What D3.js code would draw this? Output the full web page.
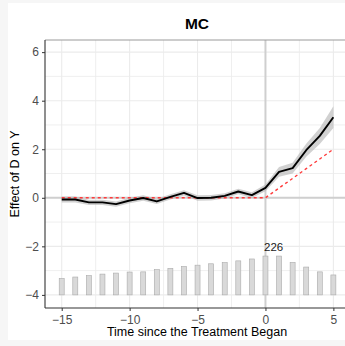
<!DOCTYPE html>
<html><head><meta charset="utf-8">
<script src="https://cdn.jsdelivr.net/npm/d3@7"></script>
<style>body{margin:0;background:#f6f6f6;}svg{display:block;}</style>
</head><body>
<script>
const times = d3.range(-15, 6);
const effect = [-0.07,-0.07,-0.19,-0.19,-0.26,-0.11,-0.01,-0.15,0.04,0.20,-0.01,0.00,0.08,0.26,0.11,0.41,1.07,1.22,1.96,2.55,3.32];
const ciHalf = [0.12,0.12,0.11,0.11,0.11,0.11,0.11,0.11,0.11,0.11,0.11,0.11,0.11,0.11,0.12,0.14,0.2,0.22,0.27,0.33,0.45];
const trueEffect = [0,0,0,0,0,0,0,0,0,0,0,0,0,0,0,0,0.4,0.8,1.2,1.6,2.0];
const counts = [95,104,112,121,127,133,134,147,154,165,173,181,188,198,209,226,226,189,162,134,116];
const xTicks = [-15,-10,-5,0,5];
const yTicks = [-4,-2,0,2,4,6];
const title = "MC";
const xLabel = "Time since the Treatment Began";
const yLabel = "Effect of D on Y";

const W = 345, H = 346;
const svg = d3.select("body").append("svg").attr("width", W).attr("height", H)
  .style("font-family", "'Liberation Sans', Arial, sans-serif");
svg.append("rect").attr("x", 8).attr("y", 3).attr("width", W - 8).attr("height", 337).attr("fill", "#fff");

const L = 45, R = 349, T = 40, B = 308;
const x = d3.scaleLinear().domain([-16.23, 6.15]).range([L, R]);
const y = d3.scaleLinear().domain([-4.54, 6.5]).range([B, T]);

const g = svg.append("g");
// grid
const xMinor = d3.range(-15, 6, 2.5);
const yMinor = d3.range(-4, 7, 1);
g.selectAll(".gx").data(xMinor).join("line")
  .attr("x1", d => x(d)).attr("x2", d => x(d)).attr("y1", T).attr("y2", B)
  .attr("stroke", "#ebebeb").attr("stroke-width", d => xTicks.includes(d) ? 1.1 : 0.8);
g.selectAll(".gy").data(yMinor).join("line")
  .attr("x1", L).attr("x2", R).attr("y1", d => y(d)).attr("y2", d => y(d))
  .attr("stroke", "#ebebeb").attr("stroke-width", d => yTicks.includes(d) ? 1.1 : 0.8);

// reference lines
g.append("line").attr("x1", x(0)).attr("x2", x(0)).attr("y1", T).attr("y2", B)
  .attr("stroke", "#cfcfcf").attr("stroke-width", 2);
g.append("line").attr("x1", L).attr("x2", R).attr("y1", y(0)).attr("y2", y(0))
  .attr("stroke", "#cfcfcf").attr("stroke-width", 2);

// bars
const maxC = d3.max(counts);
const barScale = d3.scaleLinear().domain([0, maxC]).range([-4, -2.4]);
const bw = 5;
g.selectAll(".bar").data(times).join("rect")
  .attr("x", (d) => x(d) - bw / 2).attr("width", bw)
  .attr("y", (d, i) => y(barScale(counts[i])))
  .attr("height", (d, i) => y(-4) - y(barScale(counts[i])))
  .attr("fill", "#d9d9d9").attr("stroke", "#aaaaaa").attr("stroke-width", 0.6);
const iMax = counts.indexOf(maxC);
g.append("text").attr("x", x(times[iMax] + 0.6)).attr("y", y(barScale(maxC)) - 5)
  .attr("text-anchor", "middle").attr("font-size", 11.5).attr("fill", "#1a1a1a").text(maxC);

// ribbon
const area = d3.area().x((d, i) => x(times[i]))
  .y0((d, i) => y(effect[i] - ciHalf[i])).y1((d, i) => y(effect[i] + ciHalf[i]));
g.append("path").datum(effect).attr("d", area).attr("fill", "#b3b3b3").attr("opacity", 0.6);

// true effect dashed
const line = d3.line().x((d, i) => x(times[i])).y(d => y(d));
g.append("path").datum(trueEffect).attr("d", line).attr("fill", "none")
  .attr("stroke", "#ff3b3b").attr("stroke-width", 1.4).attr("stroke-dasharray", "3,3");
g.append("path").datum(effect).attr("d", line).attr("fill", "none")
  .attr("stroke", "#000").attr("stroke-width", 1.9).attr("stroke-linejoin", "round");

// panel border top
g.append("line").attr("x1", L).attr("x2", R).attr("y1", T).attr("y2", T).attr("stroke", "#9a9a9a").attr("stroke-width", 1);

// axes
const xAxis = svg.append("g").attr("transform", `translate(0,${B})`)
  .call(d3.axisBottom(x).tickValues(xTicks).tickSize(3).tickPadding(4).tickFormat(d => d < 0 ? "\u2212" + Math.abs(d) : d));
const yAxis = svg.append("g").attr("transform", `translate(${L},0)`)
  .call(d3.axisLeft(y).tickValues(yTicks).tickSize(3).tickPadding(3).tickFormat(d => d < 0 ? "\u2212" + Math.abs(d) : d));
[xAxis, yAxis].forEach(a => {
  a.select(".domain").attr("stroke", "#333").attr("stroke-width", 1.1);
  a.selectAll(".tick line").attr("stroke", "#333");
  a.selectAll(".tick text").attr("fill", "#4d4d4d").attr("font-size", 12)
    .style("font-family", "'Liberation Sans', Arial, sans-serif");
});
xAxis.select(".domain").attr("d", `M${L},0H${R}`);
yAxis.select(".domain").attr("d", `M0,${T}V${B}`);

svg.append("text").attr("x", (L + R) / 2).attr("y", 29).attr("text-anchor", "middle")
  .attr("font-size", 15.5).attr("font-weight", "bold").attr("fill", "#000").text(title);
svg.append("text").attr("x", (L + R) / 2).attr("y", 336).attr("text-anchor", "middle")
  .attr("font-size", 12.5).attr("fill", "#000").text(xLabel);
svg.append("text").attr("transform", `translate(19,${(T + B) / 2}) rotate(-90)`).attr("text-anchor", "middle")
  .attr("font-size", 12.5).attr("fill", "#000").text(yLabel);
</script>
</body></html>
